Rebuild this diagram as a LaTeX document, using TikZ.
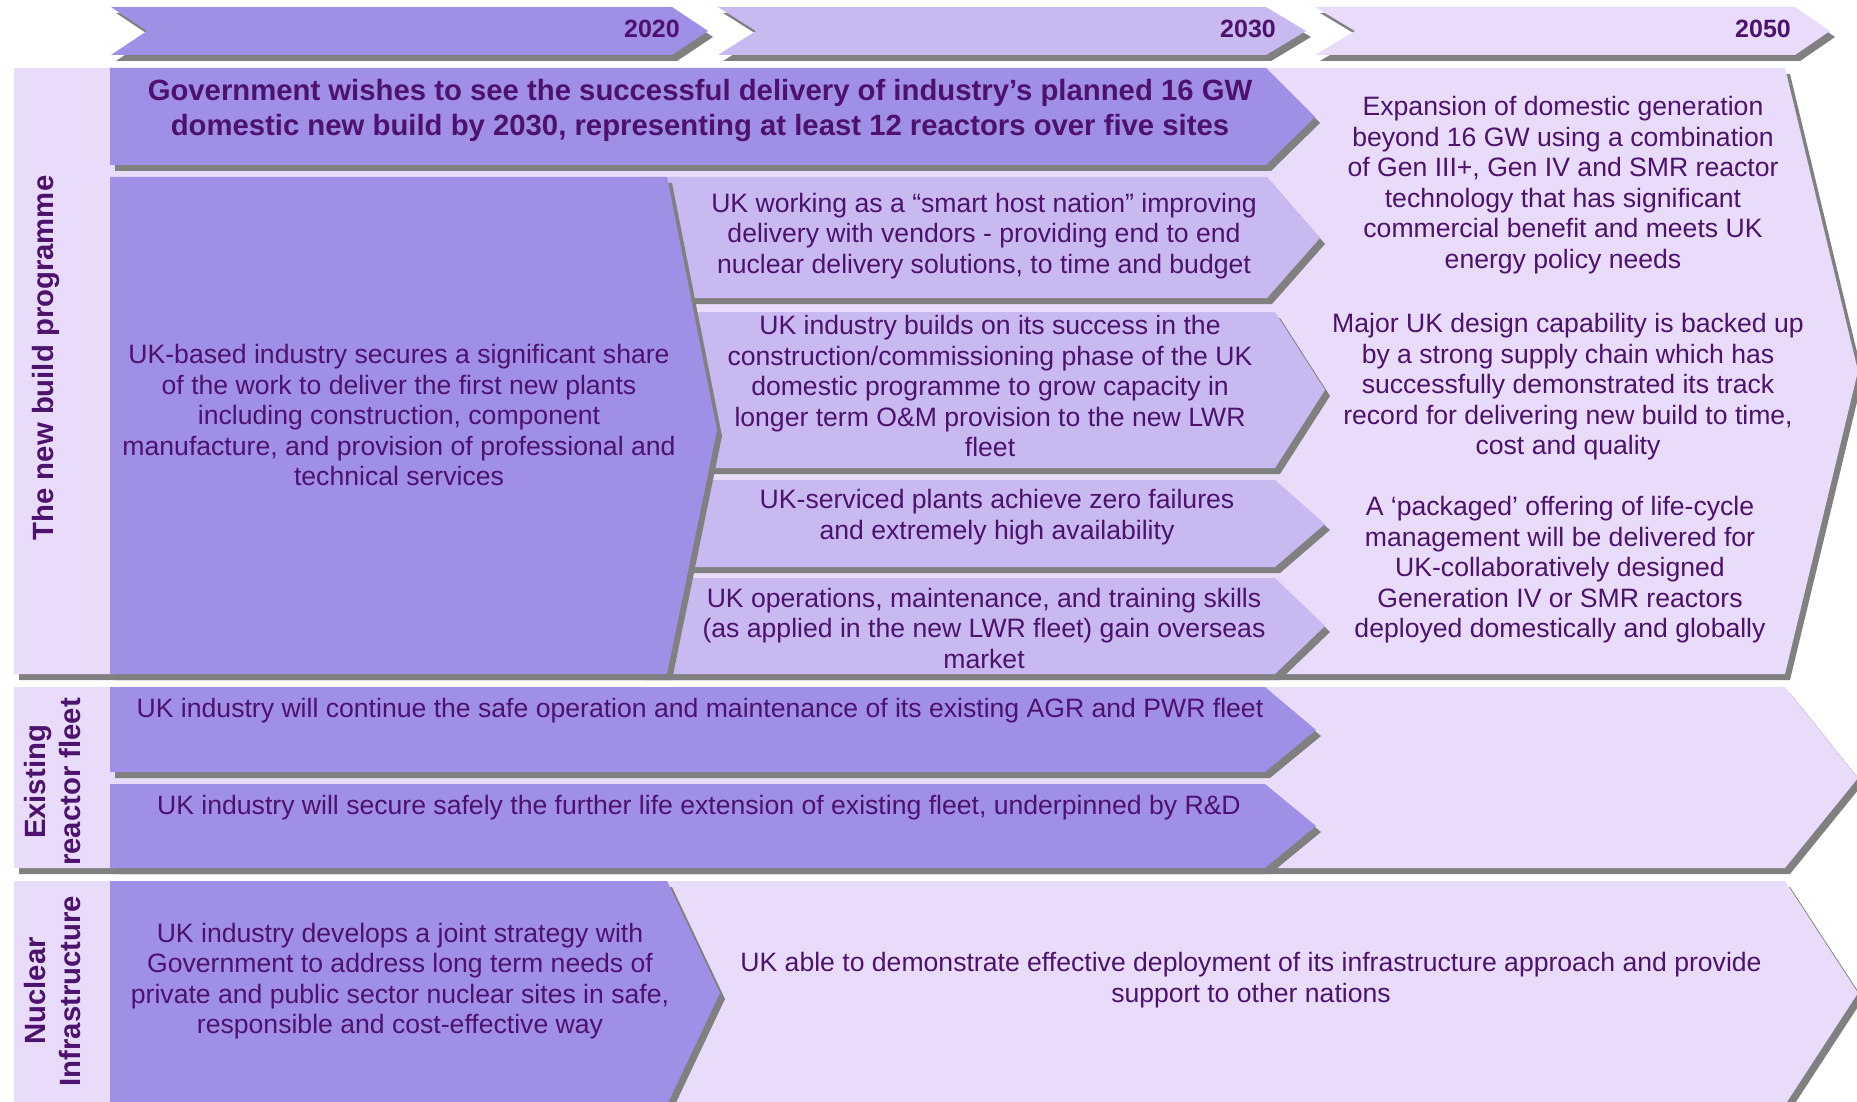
\documentclass[tikz,border=0pt]{standalone}
\usepackage{fontspec}
\setmainfont{Liberation Sans}
\usetikzlibrary{shadows}
\definecolor{boxdark}{RGB}{160,143,230}
\definecolor{boxmid}{RGB}{200,185,240}
\definecolor{boxlight}{RGB}{233,220,250}
\definecolor{shadowgrey}{RGB}{128,128,128}
\definecolor{txtpurple}{RGB}{76,18,110}

\begin{document}
\begin{tikzpicture}[x=1pt,y=-1pt,
	shadowed/.style={drop shadow={shadow xshift=5pt,shadow yshift=-6pt,fill=shadowgrey,opacity=1}},
	darkpane/.style={shadowed,fill=boxdark},
	midpane/.style={shadowed,fill=boxmid},
	lightpane/.style={shadowed,fill=boxlight},
	bodytext/.style={text=txtpurple,align=center,font=\fontsize{26.6}{30.5}\selectfont},
	boldlabel/.style={text=txtpurple,align=center,font=\bfseries\fontsize{29.3}{35}\selectfont},
	yearlabel/.style={text=txtpurple,anchor=east,font=\bfseries\fontsize{25}{30}\selectfont}]
			\tikzstyle{every node}+=[inner sep=0pt]
			\useasboundingbox (0,0) rectangle (1857,1102);
			% timeline
			\fill [darkpane] (111,7) -- (672,7) -- (708,31) -- (672,55) -- (111,55) -- (147,31) -- cycle;
			\fill [midpane] (718,7) -- (1266,7) -- (1306,31) -- (1266,55) -- (718,55) -- (756,31) -- cycle;
			\fill [lightpane] (1315,7) -- (1795,7) -- (1830,31) -- (1795,55) -- (1315,55) -- (1355,31) -- cycle;
			\node [yearlabel] (y2020) at (680,29) {2020};
			\node [yearlabel] (y2030) at (1276,29) {2030};
			\node [yearlabel] (y2050) at (1791,29) {2050};
			% section backgrounds
			\fill [lightpane] (14,68) -- (1785,68) -- (1858,371) -- (1785,674) -- (14,674) -- cycle;
			\fill [lightpane] (14,687) -- (1785,687) -- (1858,778) -- (1785,868) -- (14,868) -- cycle;
			\fill [lightpane] (14,881) -- (1785,881) -- (1858,993) -- (1785,1105) -- (14,1105) -- cycle;
			\node [boldlabel, rotate=90] (lblnew) at (46,358) {The new build programme};
			\node [boldlabel, rotate=90] (lblfleet) at (53,782) {Existing\\reactor fleet};
			\node [boldlabel, rotate=90] (lblinfra) at (53,991) {Nuclear\\Infrastructure};
			% new build programme
			\fill [darkpane] (110,68) -- (1266,68) -- (1315,117) -- (1266,165) -- (110,165) -- cycle;
			\node [boldlabel] (govt) at (700,110) {Government wishes to see the successful delivery of industry’s planned 16 GW\\domestic new build by 2030, representing at least 12 reactors over five sites};
			\fill [midpane] (640,177) -- (1267,177) -- (1320,238) -- (1267,298) -- (640,298) -- cycle;
			\fill [midpane] (640,312) -- (1275,312) -- (1325,390) -- (1275,468) -- (640,468) -- cycle;
			\fill [midpane] (640,480) -- (1275,480) -- (1325,524) -- (1275,567) -- (640,567) -- cycle;
			\fill [midpane] (640,578) -- (1275,578) -- (1325,626) -- (1275,674) -- (640,674) -- cycle;
			\fill [darkpane] (110,177) -- (667,177) -- (717,430) -- (667,674) -- (110,674) -- cycle;
			\node [bodytext] (share) at (399,415) {UK-based industry secures a significant share\\of the work to deliver the first new plants\\including construction, component\\manufacture, and provision of professional and\\technical services};
			\node [bodytext] (host) at (984,236) {UK working as a “smart host nation” improving\\delivery with vendors - providing end to end\\nuclear delivery solutions, to time and budget};
			\node [bodytext] (builds) at (990,386) {UK industry builds on its success in the\\construction/commissioning phase of the UK\\domestic programme to grow capacity in\\longer term O\&M provision to the new LWR\\fleet};
			\node [bodytext] (zero) at (997,517) {UK-serviced plants achieve zero failures\\and extremely high availability};
			\node [bodytext] (skills) at (984,628) {UK operations, maintenance, and training skills\\(as applied in the new LWR fleet) gain overseas\\market};
			\node [bodytext] (expand) at (1563,185) {Expansion of domestic generation\\beyond 16 GW using a combination\\of Gen III+, Gen IV and SMR reactor\\technology that has significant\\commercial benefit and meets UK\\energy policy needs};
			\node [bodytext] (design) at (1568,387) {Major UK design capability is backed up\\by a strong supply chain which has\\successfully demonstrated its track\\record for delivering new build to time,\\cost and quality};
			\node [bodytext] (packaged) at (1560,570) {A ‘packaged’ offering of life-cycle\\management will be delivered for\\UK-collaboratively designed\\Generation IV or SMR reactors\\deployed domestically and globally};
			% existing reactor fleet
			\fill [darkpane] (110,687) -- (1265,687) -- (1316,730) -- (1265,772) -- (110,772) -- cycle;
			\fill [darkpane] (110,784) -- (1265,784) -- (1316,826) -- (1265,868) -- (110,868) -- cycle;
			\node [bodytext] (safeop) at (700,711) {UK industry will continue the safe operation and maintenance of its existing AGR and PWR fleet};
			\node [bodytext] (lifeext) at (699,808) {UK industry will secure safely the further life extension of existing fleet, underpinned by R\&D};
			% nuclear infrastructure
			\fill [darkpane] (110,881) -- (667,881) -- (720,993) -- (667,1105) -- (110,1105) -- cycle;
			\node [bodytext] (joint) at (400,981) {UK industry develops a joint strategy with\\Government to address long term needs of\\private and public sector nuclear sites in safe,\\responsible and cost-effective way};
			\node [bodytext] (demo) at (1251,980) {UK able to demonstrate effective deployment of its infrastructure approach and provide\\support to other nations};
			\end{tikzpicture}
\end{document}
